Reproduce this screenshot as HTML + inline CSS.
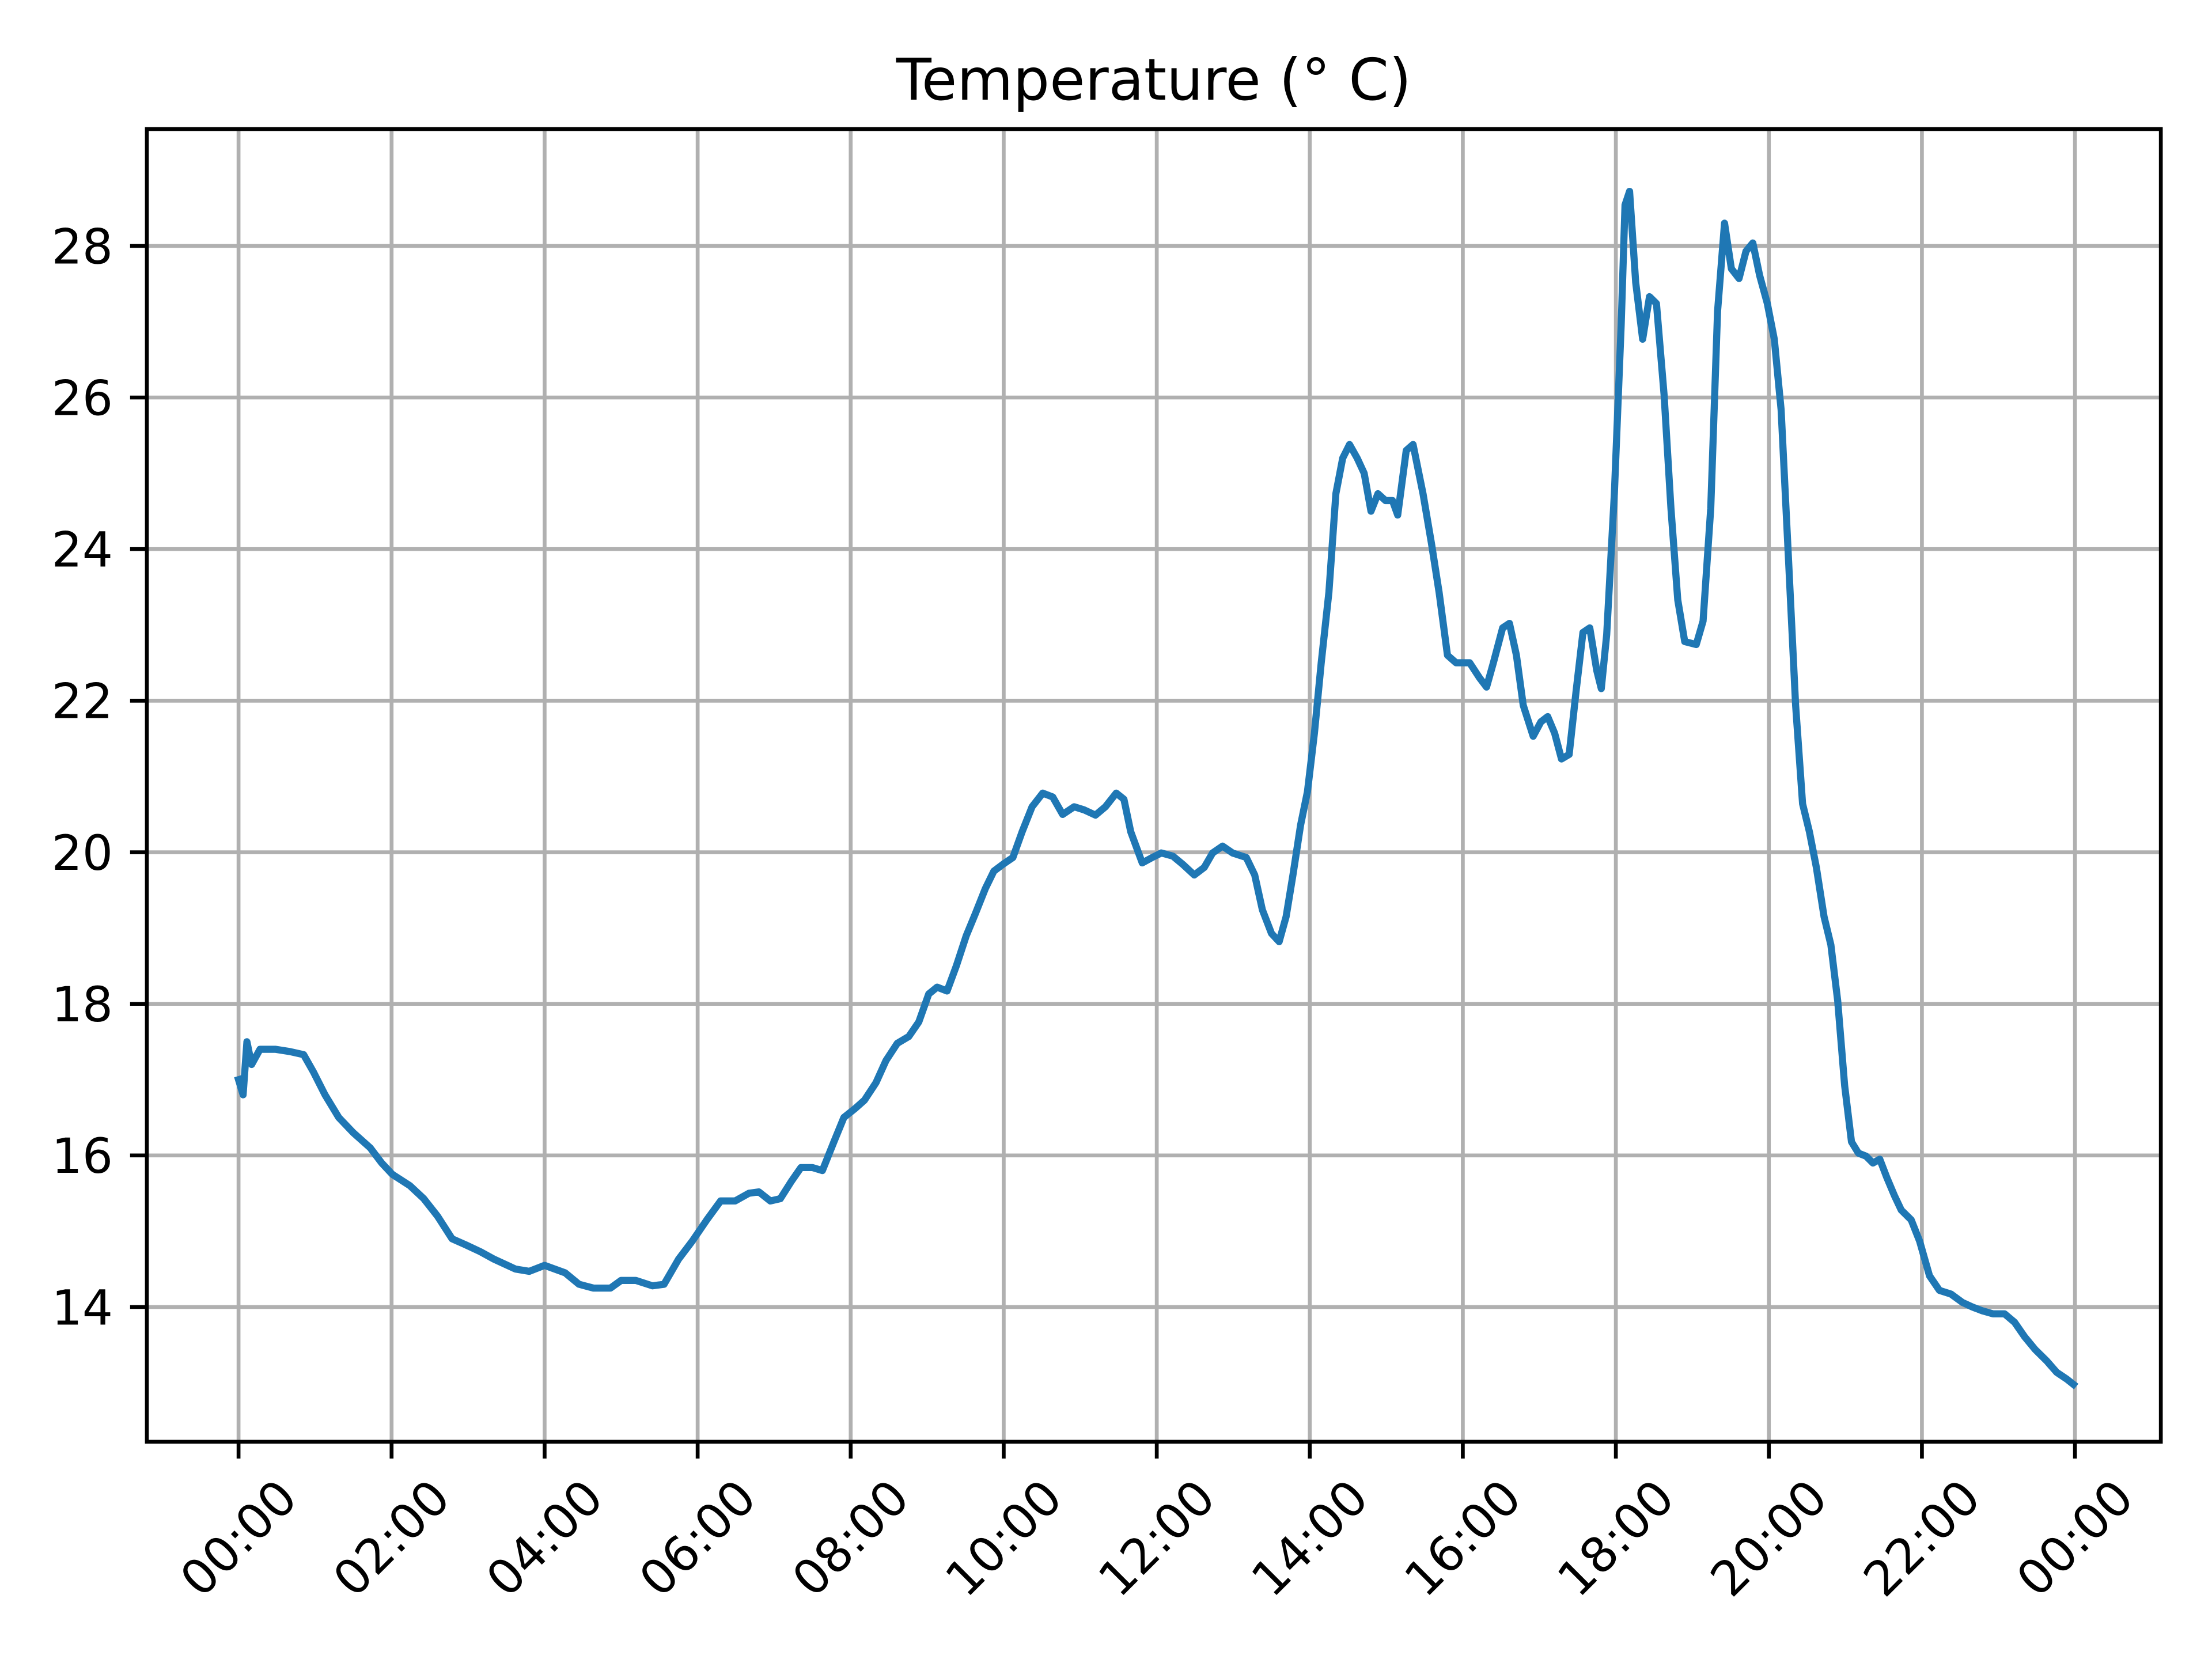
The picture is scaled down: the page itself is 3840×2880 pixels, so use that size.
<!DOCTYPE html>
<html><head><meta charset="utf-8"><style>html,body{margin:0;padding:0;background:#fff}svg{display:block}</style></head>
<body>
<svg id="chart" width="3840" height="2880" viewBox="0 0 1556 1167" xmlns="http://www.w3.org/2000/svg" font-family="DejaVu Sans, Liberation Sans, sans-serif">
<rect width="1556" height="1167" fill="#fff"/>
<text x="811.6" y="70" font-size="40.5" text-anchor="middle" fill="#000">Temperature (° C)</text>
<g id="grid"></g>
<g id="axes"></g>
<path id="line" fill="none" stroke="#1f77b4" stroke-width="5" stroke-linejoin="round" stroke-linecap="square"/>
<rect x="103.3" y="90.8" width="1416.7" height="923.4" fill="none" stroke="#000" stroke-width="2.7" stroke-linejoin="miter"/>
</svg>
<script>
const hours=[0,0.06,0.11,0.17,0.28,0.48,0.67,0.85,0.98,1.13,1.31,1.5,1.72,1.87,2.01,2.24,2.42,2.6,2.79,2.97,3.16,3.34,3.62,3.8,4.0,4.27,4.45,4.64,4.86,5.0,5.19,5.41,5.56,5.75,5.93,6.12,6.3,6.49,6.67,6.8,6.95,7.08,7.22,7.35,7.5,7.63,7.78,7.91,8.06,8.18,8.33,8.46,8.61,8.76,8.89,9.02,9.13,9.26,9.38,9.51,9.63,9.76,9.87,9.99,10.12,10.24,10.37,10.51,10.64,10.77,10.92,11.05,11.2,11.33,11.47,11.57,11.66,11.81,11.94,12.06,12.21,12.34,12.49,12.62,12.73,12.86,12.99,13.17,13.28,13.38,13.5,13.6,13.69,13.78,13.88,13.97,14.06,14.15,14.25,14.34,14.43,14.52,14.62,14.71,14.8,14.89,14.99,15.08,15.15,15.26,15.35,15.48,15.59,15.69,15.8,15.91,16.09,16.22,16.31,16.4,16.52,16.61,16.7,16.79,16.92,17.02,17.11,17.2,17.29,17.39,17.48,17.57,17.66,17.75,17.81,17.88,17.98,18.07,18.12,18.18,18.26,18.35,18.44,18.53,18.63,18.72,18.81,18.9,19.05,19.14,19.24,19.33,19.42,19.51,19.61,19.7,19.79,19.88,19.98,20.07,20.16,20.25,20.35,20.44,20.53,20.62,20.72,20.81,20.9,20.99,21.08,21.17,21.27,21.36,21.45,21.54,21.64,21.73,21.86,21.97,22.1,22.23,22.38,22.53,22.66,22.79,22.93,23.08,23.21,23.34,23.48,23.63,23.76,23.89,23.98];
const temps=[17.0,16.8,17.5,17.2,17.4,17.4,17.37,17.33,17.1,16.8,16.5,16.3,16.1,15.9,15.75,15.6,15.43,15.2,14.9,14.82,14.73,14.63,14.5,14.47,14.55,14.45,14.3,14.25,14.25,14.35,14.35,14.28,14.3,14.63,14.87,15.15,15.4,15.4,15.5,15.52,15.4,15.43,15.65,15.84,15.84,15.8,16.18,16.5,16.62,16.73,16.96,17.25,17.48,17.57,17.76,18.13,18.22,18.17,18.5,18.9,19.19,19.52,19.75,19.84,19.93,20.27,20.6,20.78,20.73,20.5,20.6,20.56,20.49,20.6,20.78,20.7,20.27,19.86,19.93,19.99,19.95,19.84,19.7,19.8,19.99,20.08,19.99,19.93,19.7,19.24,18.93,18.82,19.15,19.7,20.36,20.8,21.57,22.5,23.43,24.73,25.2,25.38,25.2,25.0,24.5,24.73,24.64,24.64,24.45,25.3,25.38,24.73,24.08,23.43,22.6,22.5,22.5,22.3,22.18,22.5,22.96,23.02,22.6,21.94,21.53,21.72,21.79,21.57,21.23,21.29,22.13,22.9,22.96,22.4,22.16,22.87,24.73,26.96,28.54,28.72,27.52,26.77,27.33,27.24,26.03,24.54,23.33,22.78,22.74,23.05,24.54,27.14,28.3,27.7,27.57,27.93,28.04,27.61,27.24,26.77,25.84,23.98,21.94,20.64,20.27,19.8,19.15,18.78,18.04,16.92,16.18,16.03,15.99,15.9,15.95,15.71,15.47,15.28,15.15,14.87,14.41,14.22,14.17,14.06,14.0,13.95,13.91,13.91,13.8,13.61,13.44,13.29,13.14,13.05,12.98];
const xTickHours=[0,2,4,6,8,10,12,14,16,18,20,22,24];
const xTickLabels=["00:00","02:00","04:00","06:00","08:00","10:00","12:00","14:00","16:00","18:00","20:00","22:00","00:00"];
const yTicks=[14,16,18,20,22,24,26,28];
const NS="http://www.w3.org/2000/svg";
const X=h=>167.8+h*(1459.6-167.8)/24;
const Y=t=>173.0+(28-t)*(919.4-173.0)/14;
const L=103.3,R=1520,T=90.8,B=1014.2;
const grid=document.getElementById('grid'),axes=document.getElementById('axes');
function mk(tag,attrs,parent){const e=document.createElementNS(NS,tag);for(const k in attrs)e.setAttribute(k,attrs[k]);parent.appendChild(e);return e;}
xTickHours.forEach((h,i)=>{
  const x=X(h);
  const g=mk('line',{x1:x,x2:x,y1:T,y2:B,stroke:'#b0b0b0','stroke-width':2.7},grid);
  
  
  const t=mk('line',{x1:x,x2:x,y1:B,y2:B+11.8,stroke:'#000','stroke-width':2.7},axes);
  
  
  const cy=1082;
  const l=mk('text',{x:x,y:cy,'font-size':34,'text-anchor':'middle','dominant-baseline':'central',transform:`rotate(-45 ${x} ${cy})`,fill:'#000'},axes);
  l.textContent=xTickLabels[i];
  
  
});
yTicks.forEach(v=>{
  const y=Y(v);
  const g=mk('line',{x1:L,x2:R,y1:y,y2:y,stroke:'#b0b0b0','stroke-width':2.7},grid);
  
  
  const t=mk('line',{x1:L-11.8,x2:L,y1:y,y2:y,stroke:'#000','stroke-width':2.7},axes);
  
  
  const l=mk('text',{x:79.5,y:y+12.3,'font-size':34,'text-anchor':'end',fill:'#000'},axes);
  l.textContent=v;
  
  
});
document.getElementById('line').setAttribute('d',hours.map((h,i)=>(i?'L':'M')+X(h).toFixed(1)+' '+Y(temps[i]).toFixed(1)).join(' '));
</script>
</body></html>
